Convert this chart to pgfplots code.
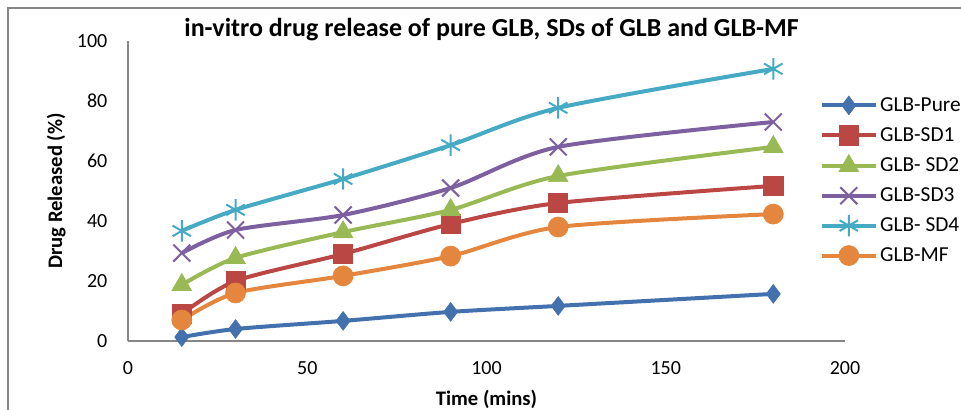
\documentclass[border=0pt]{standalone}
\usepackage{pgfplots}
\pgfplotsset{compat=1.18}
\usepackage{fontspec}
\setmainfont{Carlito}
\definecolor{cpure}{HTML}{4271AE}
\definecolor{csdone}{HTML}{BA4744}
\definecolor{csdtwo}{HTML}{98B954}
\definecolor{csdthree}{HTML}{7D60A0}
\definecolor{csdfour}{HTML}{46AAC5}
\definecolor{cmf}{HTML}{E4863D}
\definecolor{frame}{HTML}{868686}
\begin{document}
\begin{tikzpicture}
\useasboundingbox (0pt,0pt) rectangle (720.75pt,307.5pt);
\draw[frame, line width=1.2pt] (6pt,-20pt) -- (6pt,301.5pt) -- (740pt,301.5pt);
\begin{axis}[
  at={(96pt,51.75pt)}, anchor=south west,
  scale only axis,
  width=537.75pt, height=225pt,
  xmin=0, xmax=200, ymin=0, ymax=100,
  xtick={0,50,...,200}, ytick={0,20,...,100},
  axis x line=bottom, axis y line=left,
  axis line style={-, frame, line width=1.2pt},
  major tick length=0pt,
  tick label style={font=\fontsize{15}{18}\selectfont},
  /pgf/number format/assume math mode=true,
  yticklabel style={xshift=-12pt},
  xticklabel style={yshift=-12pt},
  title={\fontsize{19.5}{23}\selectfont\bfseries in-vitro drug release of pure GLB, SDs of GLB and GLB-MF},
  title style={at={(rel axis cs:0.507,1)}, anchor=center, yshift=2.5pt},
  xlabel={\fontsize{15.5}{18}\selectfont\bfseries Time (mins)},
  xlabel style={at={(rel axis cs:0.5,-0.193)}, anchor=center},
  ylabel={\fontsize{15.5}{18}\selectfont\bfseries Drug Released (\%)},
  ylabel style={at={(rel axis cs:-0.1,0.5)}, anchor=center},
  legend style={at={(rel axis cs:0.965,0.535)}, anchor=west, draw=none, fill=none,
    font=\fontsize{16}{19}\selectfont, row sep=6.5pt, inner sep=0pt},
  legend cell align=left,
  legend image code/.code={\draw[mark repeat=2,mark phase=2] plot coordinates {(0pt,0pt) (20pt,0pt) (40pt,0pt)};},
  every axis plot/.append style={line width=3pt, smooth, tension=0.45},
]
\addplot[cpure, mark=diamond*, mark size=7pt, mark options={solid, line width=0.5pt}] coordinates {
  (15,1.3) (30,4.0) (60,6.7) (90,9.7) (120,11.7) (180,15.7)};
\addlegendentry{GLB-Pure}
\addplot[csdone, mark=square*, mark size=7.2pt, mark options={solid, line width=0.5pt}] coordinates {
  (15,9.0) (30,20.0) (60,29.0) (90,39.0) (120,46.0) (180,51.7)};
\addlegendentry{GLB-SD1}
\addplot[csdtwo, mark=triangle*, mark size=8.5pt, mark options={solid, line width=0.5pt}] coordinates {
  (15,18.7) (30,27.7) (60,36.3) (90,43.7) (120,55.0) (180,64.7)};
\addlegendentry{GLB- SD2}
\addplot[csdthree, mark=x, mark size=9pt, mark options={solid, line width=1.5pt}] coordinates {
  (15,29.3) (30,37.0) (60,42.0) (90,51.0) (120,64.7) (180,73.0)};
\addlegendentry{GLB-SD3}
\addplot[csdfour, mark=asterisk, mark size=8pt, mark options={solid, line width=1.5pt}] coordinates {
  (15,36.7) (30,43.7) (60,54.0) (90,65.3) (120,77.7) (180,90.7)};
\addlegendentry{GLB- SD4}
\addplot[cmf, mark=*, mark size=7.5pt, mark options={solid, line width=0.5pt}] coordinates {
  (15,7.0) (30,16.0) (60,21.7) (90,28.3) (120,38.0) (180,42.3)};
\addlegendentry{GLB-MF}
\end{axis}
\end{tikzpicture}
\end{document}
